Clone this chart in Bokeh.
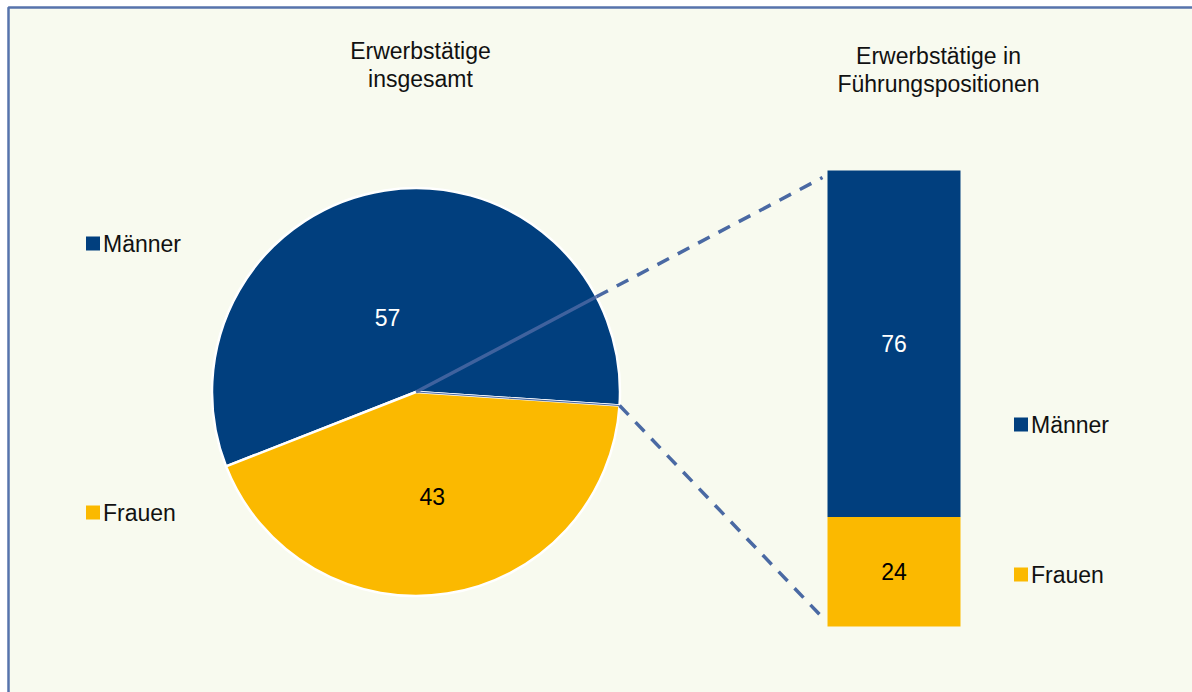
import math
from bokeh.plotting import figure
from bokeh.models import Range1d
from bokeh.core.properties import value
from bokeh.embed import file_html
from bokeh.resources import INLINE

# ---------------- data ----------------
categories = ["Männer", "Frauen"]
share_total = [57, 43]            # Erwerbstätige insgesamt (%)
share_leaders = [76, 24]          # Erwerbstätige in Führungspositionen (%)
title_total = ["Erwerbstätige", "insgesamt"]
title_leaders = ["Erwerbstätige in", "Führungspositionen"]

# ---------------- style / layout ----------------
W, H = 1192, 692
BG = "#F8FAEF"
BORDER = "#5673AC"
COLORS = ["#013F7E", "#FBB900"]
LABEL_COLORS = ["white", "black"]
LINE_COL = "#4A69A3"
FONT = value("Liberation Sans")

pie_cx, pie_cy, pie_r = 415.5, 300.5, 204
pie_start = math.radians(-3.8)
pie_label_r = [80, 106]
pie_label_shift = [math.radians(12), 0.0]

bar_x, bar_w = 893.5, 133
bar_bottom, bar_height = 66, 456

p = figure(width=W, height=H, x_range=Range1d(0, W), y_range=Range1d(0, H),
           output_backend="svg", toolbar_location=None,
           x_axis_location=None, y_axis_location=None,
           min_border=0, background_fill_color="white", border_fill_color="white",
           outline_line_color=None)
p.grid.visible = False

# chart area with border on top/left edges
p.quad(left=[8], right=[W + 20], top=[H - 7], bottom=[-20],
       fill_color=BG, line_color=BORDER, line_width=2.5)

# ---------------- pie ----------------
tot = sum(share_total)
starts, ends = [], []
a = pie_start
for v in share_total:
    starts.append(a)
    a += 2 * math.pi * v / tot
    ends.append(a)
p.wedge(x=[pie_cx] * len(share_total), y=[pie_cy] * len(share_total), radius=pie_r,
        start_angle=starts, end_angle=ends, fill_color=COLORS,
        line_color="white", line_width=2.5)

# thin series line along the split edge
p.line([pie_cx, pie_cx + pie_r * math.cos(pie_start)],
       [pie_cy, pie_cy + pie_r * math.sin(pie_start)],
       line_color=LINE_COL, line_width=1.2)

# pie labels
lx, ly = [], []
for i in range(len(share_total)):
    mid = (starts[i] + ends[i]) / 2 + pie_label_shift[i]
    lx.append(pie_cx + pie_label_r[i] * math.cos(mid))
    ly.append(pie_cy + pie_label_r[i] * math.sin(mid))
p.text(x=lx, y=ly, text=[str(v) for v in share_total], text_color=LABEL_COLORS,
       text_font=FONT, text_font_size="23px", text_align="center",
       text_baseline="middle")

# ---------------- stacked bar ----------------
scale = bar_height / sum(share_leaders)
bottoms, tops = [], []
b = bar_bottom
for v in reversed(share_leaders):
    bottoms.append(b)
    b += v * scale
    tops.append(b)
bottoms = bottoms[::-1]
tops = tops[::-1]
p.vbar(x=[bar_x] * len(share_leaders), width=bar_w, bottom=bottoms, top=tops,
       fill_color=COLORS, line_color=None)
p.text(x=[bar_x] * len(share_leaders), y=[(b0 + t0) / 2 for b0, t0 in zip(bottoms, tops)],
       text=[str(v) for v in share_leaders], text_color=LABEL_COLORS,
       text_font=FONT, text_font_size="23px", text_align="center",
       text_baseline="middle")

# ---------------- connector lines ----------------
bar_left = bar_x - bar_w / 2
bar_top = bar_bottom + bar_height
end_top = (bar_left - 5, bar_top - 7)
end_bot = (bar_left - 5, bar_bottom + 9)
dx, dy = end_top[0] - pie_cx, end_top[1] - pie_cy
d = math.hypot(dx, dy)
edge_pt = (pie_cx + dx / d * pie_r, pie_cy + dy / d * pie_r)
p.line([pie_cx, edge_pt[0]], [pie_cy, edge_pt[1]], line_color=LINE_COL,
       line_width=3.5, line_alpha=0.85)
p.line([edge_pt[0], end_top[0]], [edge_pt[1], end_top[1]], line_color=LINE_COL,
       line_width=3.5, line_dash="13 10")
start_bot = (pie_cx + pie_r * math.cos(pie_start), pie_cy + pie_r * math.sin(pie_start))
p.line([start_bot[0], end_bot[0]], [start_bot[1], end_bot[1]], line_color=LINE_COL,
       line_width=3.5, line_dash="13 10")

# ---------------- titles ----------------
p.text(x=[420, 420], y=[642, 614], text=title_total, text_color="#111111",
       text_font=FONT, text_font_size="23px", text_align="center",
       text_baseline="middle")
p.text(x=[938, 938], y=[637, 609], text=title_leaders, text_color="#111111",
       text_font=FONT, text_font_size="23px", text_align="center",
       text_baseline="middle")

# ---------------- legends ----------------
leg_left_x, leg_left_y = 92.5, [449, 180]
leg_right_x, leg_right_y = 1020.5, [268, 118]
for lxp, lys in ((leg_left_x, leg_left_y), (leg_right_x, leg_right_y)):
    p.rect(x=[lxp] * 2, y=lys, width=14, height=14, width_units="screen",
           height_units="screen", fill_color=COLORS, line_color=None)
    p.text(x=[lxp + 10] * 2, y=lys, text=categories, text_color="#111111",
           text_font=FONT, text_font_size="23px", text_align="left",
           text_baseline="middle")

open("out.html", "w").write(file_html(p, INLINE))
